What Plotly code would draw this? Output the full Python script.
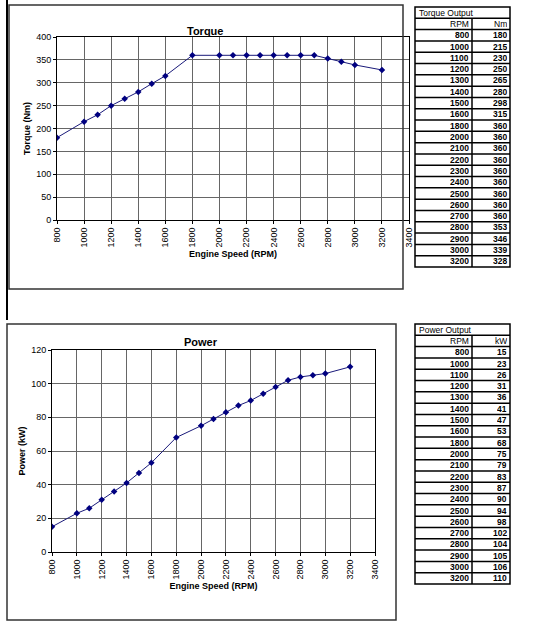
import plotly.graph_objects as go

rpm = [800, 1000, 1100, 1200, 1300, 1400, 1500, 1600, 1800, 2000, 2100, 2200, 2300, 2400, 2500, 2600, 2700, 2800, 2900, 3000, 3200]
torque = [180, 215, 230, 250, 265, 280, 298, 315, 360, 360, 360, 360, 360, 360, 360, 360, 360, 353, 346, 339, 328]
power = [15, 23, 26, 31, 36, 41, 47, 53, 68, 75, 79, 83, 87, 90, 94, 98, 102, 104, 105, 106, 110]
x_ticks = list(range(800, 3401, 200))

W, H = 560, 625
def px(x): return x / W
def py(y): return 1 - y / H

fig = go.Figure()
line = dict(color="#1a1a7a", width=1)
mk = dict(symbol="diamond", size=5, color="#000080")
fig.add_trace(go.Scatter(x=rpm, y=torque, mode="lines+markers", line=line, marker=mk, xaxis="x", yaxis="y", showlegend=False))
fig.add_trace(go.Scatter(x=rpm, y=power, mode="lines+markers", line=line, marker=mk, xaxis="x2", yaxis="y2", showlegend=False))

F = "Liberation Sans, Arial, sans-serif"
ax_common = dict(showline=True, linecolor="black", mirror=True, gridcolor="#666", gridwidth=1,
                 ticks="outside", ticklen=3, tickcolor="black", tickfont=dict(size=9, family=F, color="black"),
                 zeroline=False, automargin=False)
tf = dict(size=9, family=F, color="black")
fig.update_layout(
    width=W, height=H, margin=dict(l=0, r=0, t=0, b=0, autoexpand=False),
    paper_bgcolor="white", plot_bgcolor="white",
    xaxis=dict(domain=[px(57), px(409)], range=[800, 3400], tickvals=x_ticks, tickangle=-90,
               title=dict(text="<b>Engine Speed (RPM)</b>", font=tf, standoff=4), anchor="y", **ax_common),
    yaxis=dict(domain=[py(220), py(37)], range=[0, 400], dtick=50,
               title=dict(text="<b>Torque (Nm)</b>", font=tf, standoff=4), anchor="x", **ax_common),
    xaxis2=dict(domain=[px(52), px(375)], range=[800, 3400], tickvals=x_ticks, tickangle=-90,
                title=dict(text="<b>Engine Speed (RPM)</b>", font=tf, standoff=4), anchor="y2", **ax_common),
    yaxis2=dict(domain=[py(552), py(350)], range=[0, 120], dtick=20,
                title=dict(text="<b>Power (kW)</b>", font=tf, standoff=4), anchor="x2", **ax_common),
)

shapes = []
ann = []
shapes.append(dict(type="rect", xref="paper", yref="paper", x0=px(9), x1=px(403), y0=py(289), y1=py(5), line=dict(color="#333", width=1.5)))
shapes.append(dict(type="rect", xref="paper", yref="paper", x0=px(7), x1=px(396), y0=py(620), y1=py(324), line=dict(color="#333", width=1.5)))
shapes.append(dict(type="line", xref="paper", yref="paper", x0=px(7), x1=px(7), y0=py(320), y1=py(0), line=dict(color="black", width=2)))
ann.append(dict(text="<b>Torque</b>", x=px(205), y=py(23), xref="paper", yref="paper", showarrow=False, font=dict(size=11, family=F, color="black")))
ann.append(dict(text="<b>Power</b>", x=px(201), y=py(342), xref="paper", yref="paper", showarrow=False, font=dict(size=11, family=F, color="black")))

def table(top, title, unit, vals):
    x0, xm, x1 = 415, 472, 510
    n = len(vals) + 2
    rh = 260 / n
    shapes.append(dict(type="rect", xref="paper", yref="paper", x0=px(x0), x1=px(x1), y0=py(top + n * rh), y1=py(top), line=dict(color="black", width=1.5)))
    ann.append(dict(text=title, x=px(x0 + 2), y=py(top + rh / 2), xref="paper", yref="paper", xanchor="left", yanchor="middle",
                    showarrow=False, font=dict(size=8.5, family=F, color="black")))
    rows = [("RPM", unit, False)] + [(str(r), str(v), True) for r, v in zip(rpm, vals)]
    for i, (a, b, bold) in enumerate(rows):
        y = top + (i + 1) * rh
        shapes.append(dict(type="line", xref="paper", yref="paper", x0=px(x0), x1=px(x1), y0=py(y), y1=py(y), line=dict(color="black", width=1.5)))
        yc = py(y + rh / 2)
        fa = f"<b>{a}</b>" if bold else a
        fb = f"<b>{b}</b>" if bold else b
        for t, xx in ((fa, xm - 2), (fb, x1 - 2)):
            ann.append(dict(text=t, x=px(xx), y=yc, xref="paper", yref="paper", xanchor="right", yanchor="middle",
                            showarrow=False, font=dict(size=8.5, family=F, color="black"), borderpad=0, height=10))
    shapes.append(dict(type="line", xref="paper", yref="paper", x0=px(xm), x1=px(xm), y0=py(top + n * rh), y1=py(top + rh), line=dict(color="black", width=1.5)))

table(7, "Torque Output", "Nm", torque)
table(324, "Power Output", "kW", power)
fig.update_layout(shapes=shapes, annotations=ann)
fig.write_html("out.html", config={"displayModeBar": False})
with open("out.html", encoding="utf-8") as f:
    html = f.read()
html = html.replace("<body>", '<body style="margin:0;overflow:hidden">', 1)
with open("out.html", "w", encoding="utf-8") as f:
    f.write(html)
